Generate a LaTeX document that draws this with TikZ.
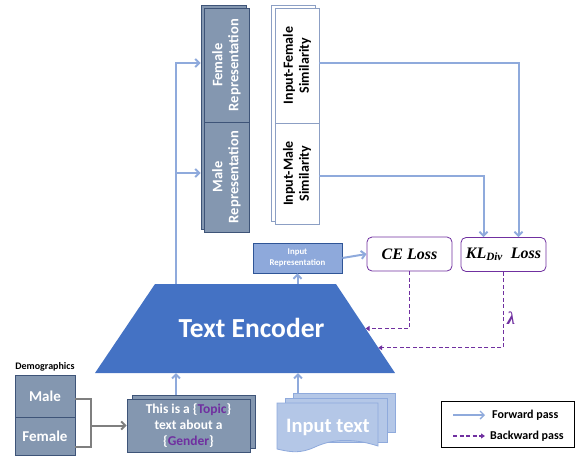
\documentclass[tikz,border=0pt]{standalone}
\usepackage{fontspec}
\setmainfont{Carlito}
\newfontfamily\serifmath{Liberation Serif}
\usetikzlibrary{arrows.meta,calc}
\definecolor{slate}{HTML}{8497B0}
\definecolor{slatedark}{HTML}{3E5478}
\definecolor{lblue}{HTML}{8FAADC}
\definecolor{simborder}{HTML}{8C9FC4}
\definecolor{encblue}{HTML}{4472C4}
\definecolor{pale}{HTML}{B4C7E7}
\definecolor{irfill}{HTML}{8EA9DB}
\definecolor{irborder}{HTML}{2F5597}
\definecolor{purp}{HTML}{7030A0}
\definecolor{gray7}{HTML}{7F7F7F}
\begin{document}
\begin{tikzpicture}[x=1pt,y=-1pt,
  fwd/.style={draw=lblue, line width=2pt, -{Straight Barb[length=4pt,width=8pt]}},
  bwd/.style={draw=purp, line width=1.3pt, dash pattern=on 4pt off 2.5pt, -{Triangle[length=4pt,width=5pt]}},
  repbox/.style={draw=slatedark, fill=slate, line width=0.8pt, rotate=90, text=white,
     font=\fontsize{14.5}{16}\selectfont\bfseries, align=center, inner sep=0pt},
  repback/.style={draw=slatedark, fill=slate, line width=0.8pt},
  simbox/.style={draw=simborder, fill=white, line width=0.9pt, rotate=90, text=black,
     font=\fontsize{14}{16}\selectfont\bfseries, align=center, inner sep=0pt},
  simback/.style={draw=simborder, fill=white, line width=0.9pt},
  lossbox/.style={draw=purp, fill=white, line width=0.8pt, rounded corners=5pt,
     minimum width=85pt, minimum height=34pt, inner sep=0pt,
     font=\fontsize{16}{17}\selectfont\serifmath\bfseries\itshape},
  demobox/.style={draw=slatedark, fill=slate, line width=0.8pt, text=white,
     minimum width=60pt, inner sep=0pt, font=\fontsize{15}{17}\selectfont\bfseries},
  legtext/.style={anchor=west, inner sep=0pt, font=\fontsize{12}{13}\selectfont\bfseries},
]
\useasboundingbox (0,0) rectangle (576,456);

% ---------- representation boxes ----------
\draw[repback] (201,5) rectangle (246,229);
\node[repbox, minimum width=114pt, minimum height=45pt] (frep) at (226.5,65) {Female\\Representation};
\node[repbox, minimum width=110pt, minimum height=45pt] (mrep) at (226.5,177) {Male\\Representation};

% ---------- similarity boxes ----------
\draw[simback] (271,5) rectangle (315,221);
\node[simbox, minimum width=115pt, minimum height=44pt] (fsim) at (297,65.5) {Input-Female\\Similarity};
\node[simbox, minimum width=101pt, minimum height=44pt] (msim) at (297,173.5) {Input-Male\\Similarity};

% ---------- text encoder ----------
\coordinate (eTL) at (155,284);
\coordinate (eTR) at (336,284);
\coordinate (eBR) at (395,373);
\coordinate (eBL) at (95,373);
\fill[encblue] (eTL) -- (eTR) -- (eBR) -- (eBL) -- cycle;
\node[text=white, font=\fontsize{27.5}{30}\selectfont\bfseries, inner sep=0pt] (enc) at (251.5,328) {Text Encoder};

% ---------- input representation ----------
\node[draw=irborder, fill=irfill, line width=0.8pt, text=white, align=center,
      minimum width=89pt, minimum height=30pt, inner sep=0pt,
      font=\fontsize{8.8}{11}\selectfont\bfseries] (irep) at (297.5,258) {Input\\Representation};

% ---------- losses ----------
\node[lossbox] (ce) at (409.5,254) {CE Loss};
\node[lossbox] (kl) at (503.5,254.5) {KL\textsubscript{Div}\ \ Loss};

% ---------- demographics ----------
\node[font=\fontsize{10}{12}\selectfont\bfseries, inner sep=0pt] (demo) at (45,367) {Demographics};
\node[demobox, minimum height=42pt] (male) at (45,396) {Male};
\node[demobox, minimum height=38pt] (female) at (45,436) {Female};

% ---------- template sentence ----------
\draw[repback] (132,395) rectangle (255,448);
\node[draw=slatedark, fill=slate, line width=0.8pt, text=white, align=center,
      minimum width=123pt, minimum height=53pt, inner sep=0pt,
      font=\fontsize{13.5}{16}\selectfont\bfseries] (tmpl) at (188.5,425.5)
      {This is a \{\textcolor{purp}{Topic}\}\\text about a\\\{\textcolor{purp}{Gender}\}};

% ---------- input text (multi-document) ----------
\draw[draw=lblue, fill=pale, line width=0.8pt] (293,393) rectangle (395,432);
\draw[draw=lblue, fill=pale, line width=0.8pt] (285,398) rectangle (387,442);
\draw[draw=lblue, fill=pale, line width=0.8pt]
  (277,403) -- (378,403) -- (378,446)
  .. controls (350,437) and (330,440) .. (315,447)
  .. controls (300,454) and (290,452) .. (277,449) -- cycle;
\node[text=white, font=\fontsize{20.5}{22}\selectfont\bfseries, inner sep=0pt] (itext) at (328,427) {Input text};

% ---------- forward connectors ----------
\coordinate (split) at (176,284);
\coordinate (fy) at (0,63);
\coordinate (my) at (0,176);
\coordinate (ty) at (0,395);
\coordinate (by) at (0,447);
\draw[fwd, shorten >=3pt] (split) |- ([yshift=2pt]frep.north);
\draw[fwd, shorten >=3pt] (split) |- ([yshift=4pt]mrep.north);
\draw[fwd] (irep.south |- split) -- (irep.south);
\draw[fwd] (irep.east) -- (ce.west);
\draw[fwd] (fsim.south |- fy) -| ([xshift=15pt]kl.north);
\draw[fwd] (msim.south |- my) -| ([xshift=-20pt]kl.north);
\coordinate (tin) at (176,373);
\draw[fwd] (tin |- ty) -- (tin);
\coordinate (itop) at (298,393);
\coordinate (iin) at (298,373);
\draw[fwd] (itop) -- (iin);

% ---------- demographic bracket ----------
\coordinate (brk) at (91,426);
\draw[draw=gray7, line width=2pt] ([yshift=-3pt]male.east) -| (brk |- by) -- ([yshift=-11pt]female.east);
\draw[draw=gray7, line width=2pt, -{Straight Barb[length=4pt,width=8pt]}] (brk |- tmpl.west) -- (tmpl.west);

% ---------- backward connectors ----------
\coordinate (ceend) at ($(eTR)!0.5!(eBR)$);
\coordinate (klend) at ($(eTR)!0.716!(eBR)$);
\draw[bwd] (ce.south) |- (ceend);
\draw[bwd] (kl.south) |- (klend);
\node[text=purp, font=\fontsize{18}{18}\selectfont\serifmath\bfseries\itshape, inner sep=0pt] (lam) at (511,318) {λ};

% ---------- legend ----------
\node[draw=black, line width=0.6pt, minimum width=133pt, minimum height=46pt, inner sep=0pt] (legend) at (507.5,424) {};
\coordinate (fa) at (453,415);
\coordinate (fb) at (485,415);
\draw[fwd, line width=1.4pt] (fa) -- (fb);
\node[legtext] (ftext) at (492,415) {Forward pass};
\coordinate (ba) at (453,436);
\coordinate (bb) at (485,436);
\draw[bwd] (ba) -- (bb);
\node[legtext] (btext) at (490,436) {Backward pass};
\end{tikzpicture}
\end{document}
